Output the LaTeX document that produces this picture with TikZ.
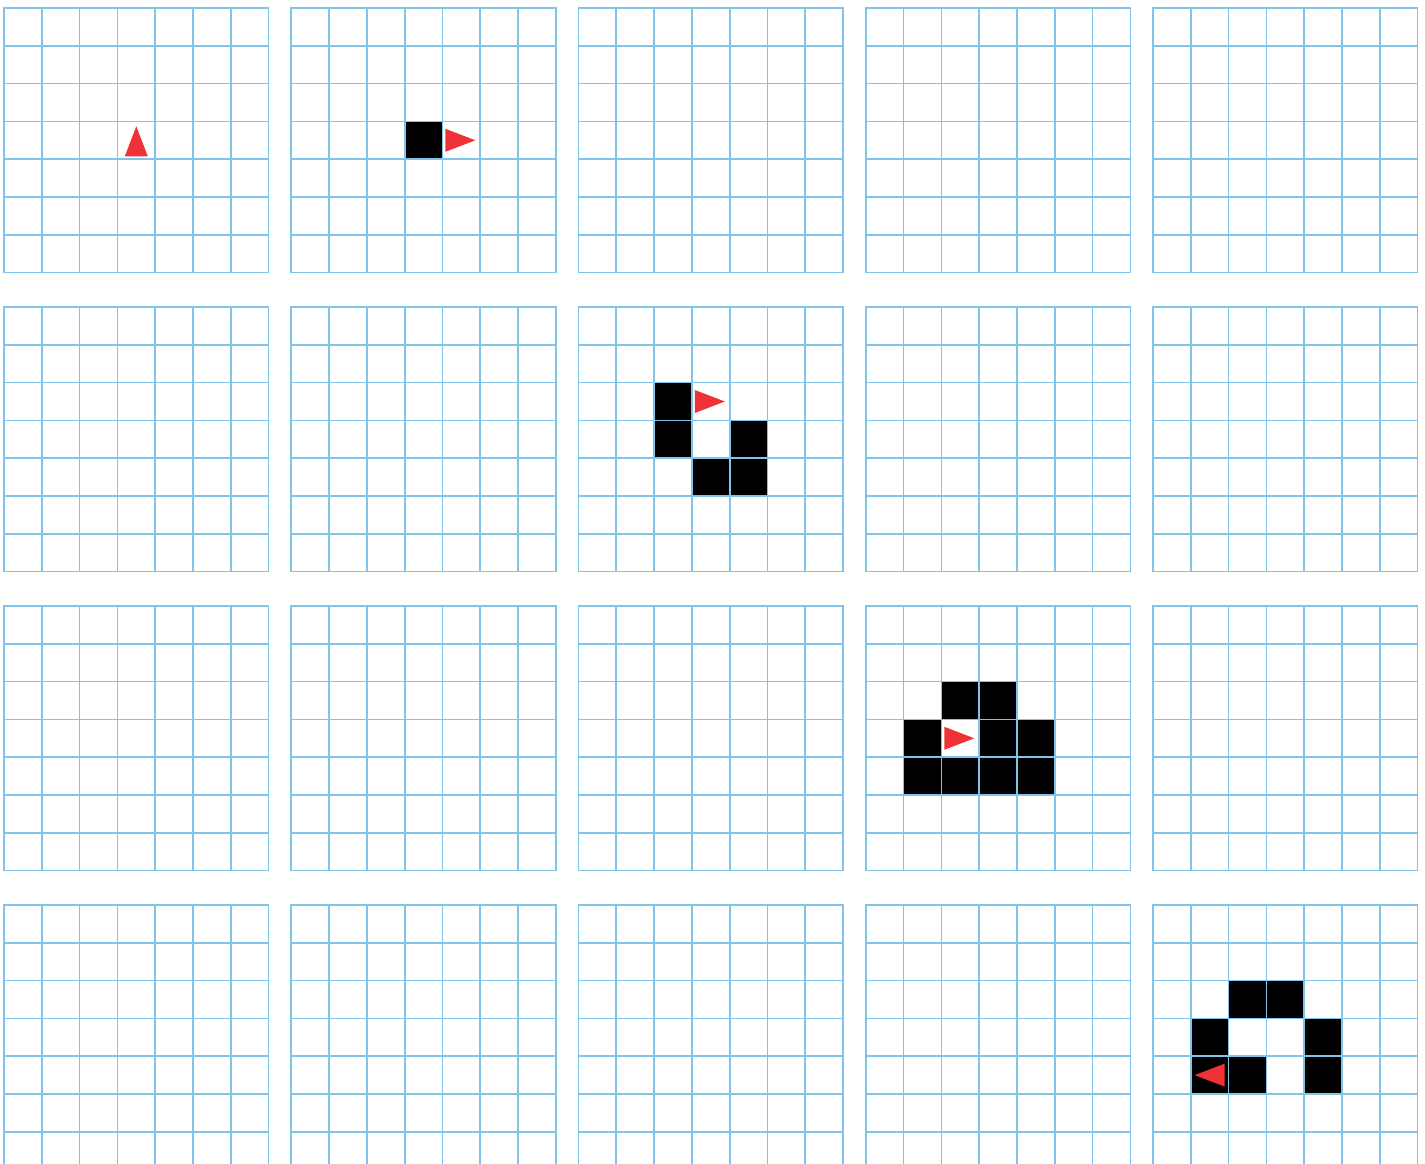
\documentclass[tikz,border=0pt]{standalone}
\definecolor{gridblue}{RGB}{128,196,234}
\definecolor{antred}{RGB}{238,50,56}
\newcommand\blk[4]{\fill[cellfill] ({4+287.25*#1+37.8*#3},{8+299*#2+37.8*#4}) rectangle ++(37.8,37.8);}
\newcommand\antRight[4]{\fill[ant,shift={({4+287.25*#1+37.8*#3+18.9},{8+299*#2+37.8*#4+18.9})}] (-16,-11.5) -- (14,0) -- (-16,11.5) -- cycle;}
\newcommand\antLeft[4]{\fill[ant,shift={({4+287.25*#1+37.8*#3+18.9},{8+299*#2+37.8*#4+18.9})}] (15,-11.5) -- (-15,0) -- (15,11.5) -- cycle;}
\newcommand\antUp[4]{\fill[ant,shift={({4+287.25*#1+37.8*#3+18.9},{8+299*#2+37.8*#4+18.9})}] (-11.5,16) -- (0,-14) -- (11.5,16) -- cycle;}
\begin{document}
\begin{tikzpicture}[x=0.5pt,y=-0.5pt,
  gridline/.style={draw=gridblue,line width=0.85pt,line cap=rect},
  cellfill/.style={fill=black},
  ant/.style={fill=antred}]
\useasboundingbox (0,0) rectangle (1425,1163);
\clip (0,0) rectangle (1425,1163);
% black cells
\blk{1}{0}{3}{3}
\blk{2}{1}{2}{2}
\blk{2}{1}{2}{3}
\blk{2}{1}{4}{3}
\blk{2}{1}{3}{4}
\blk{2}{1}{4}{4}
\blk{3}{2}{2}{2}
\blk{3}{2}{3}{2}
\blk{3}{2}{1}{3}
\blk{3}{2}{3}{3}
\blk{3}{2}{4}{3}
\blk{3}{2}{1}{4}
\blk{3}{2}{2}{4}
\blk{3}{2}{3}{4}
\blk{3}{2}{4}{4}
\blk{4}{3}{2}{2}
\blk{4}{3}{3}{2}
\blk{4}{3}{1}{3}
\blk{4}{3}{4}{3}
\blk{4}{3}{1}{4}
\blk{4}{3}{2}{4}
\blk{4}{3}{4}{4}
% grids
\foreach \pcol in {0,...,4}{
  \foreach \prow in {0,...,3}{
    \foreach \k in {0,...,7}{
      \draw[gridline] ({4+287.25*\pcol+37.8*\k},{8+299*\prow}) -- ++(0,264.6);
      \draw[gridline] ({4+287.25*\pcol},{8+299*\prow+37.8*\k}) -- ++(264.6,0);
    }
  }
}
% ants
\antUp{0}{0}{3}{3}
\antRight{1}{0}{4}{3}
\antRight{2}{1}{3}{2}
\antRight{3}{2}{2}{3}
\antLeft{4}{3}{1}{4}
\end{tikzpicture}
\end{document}
